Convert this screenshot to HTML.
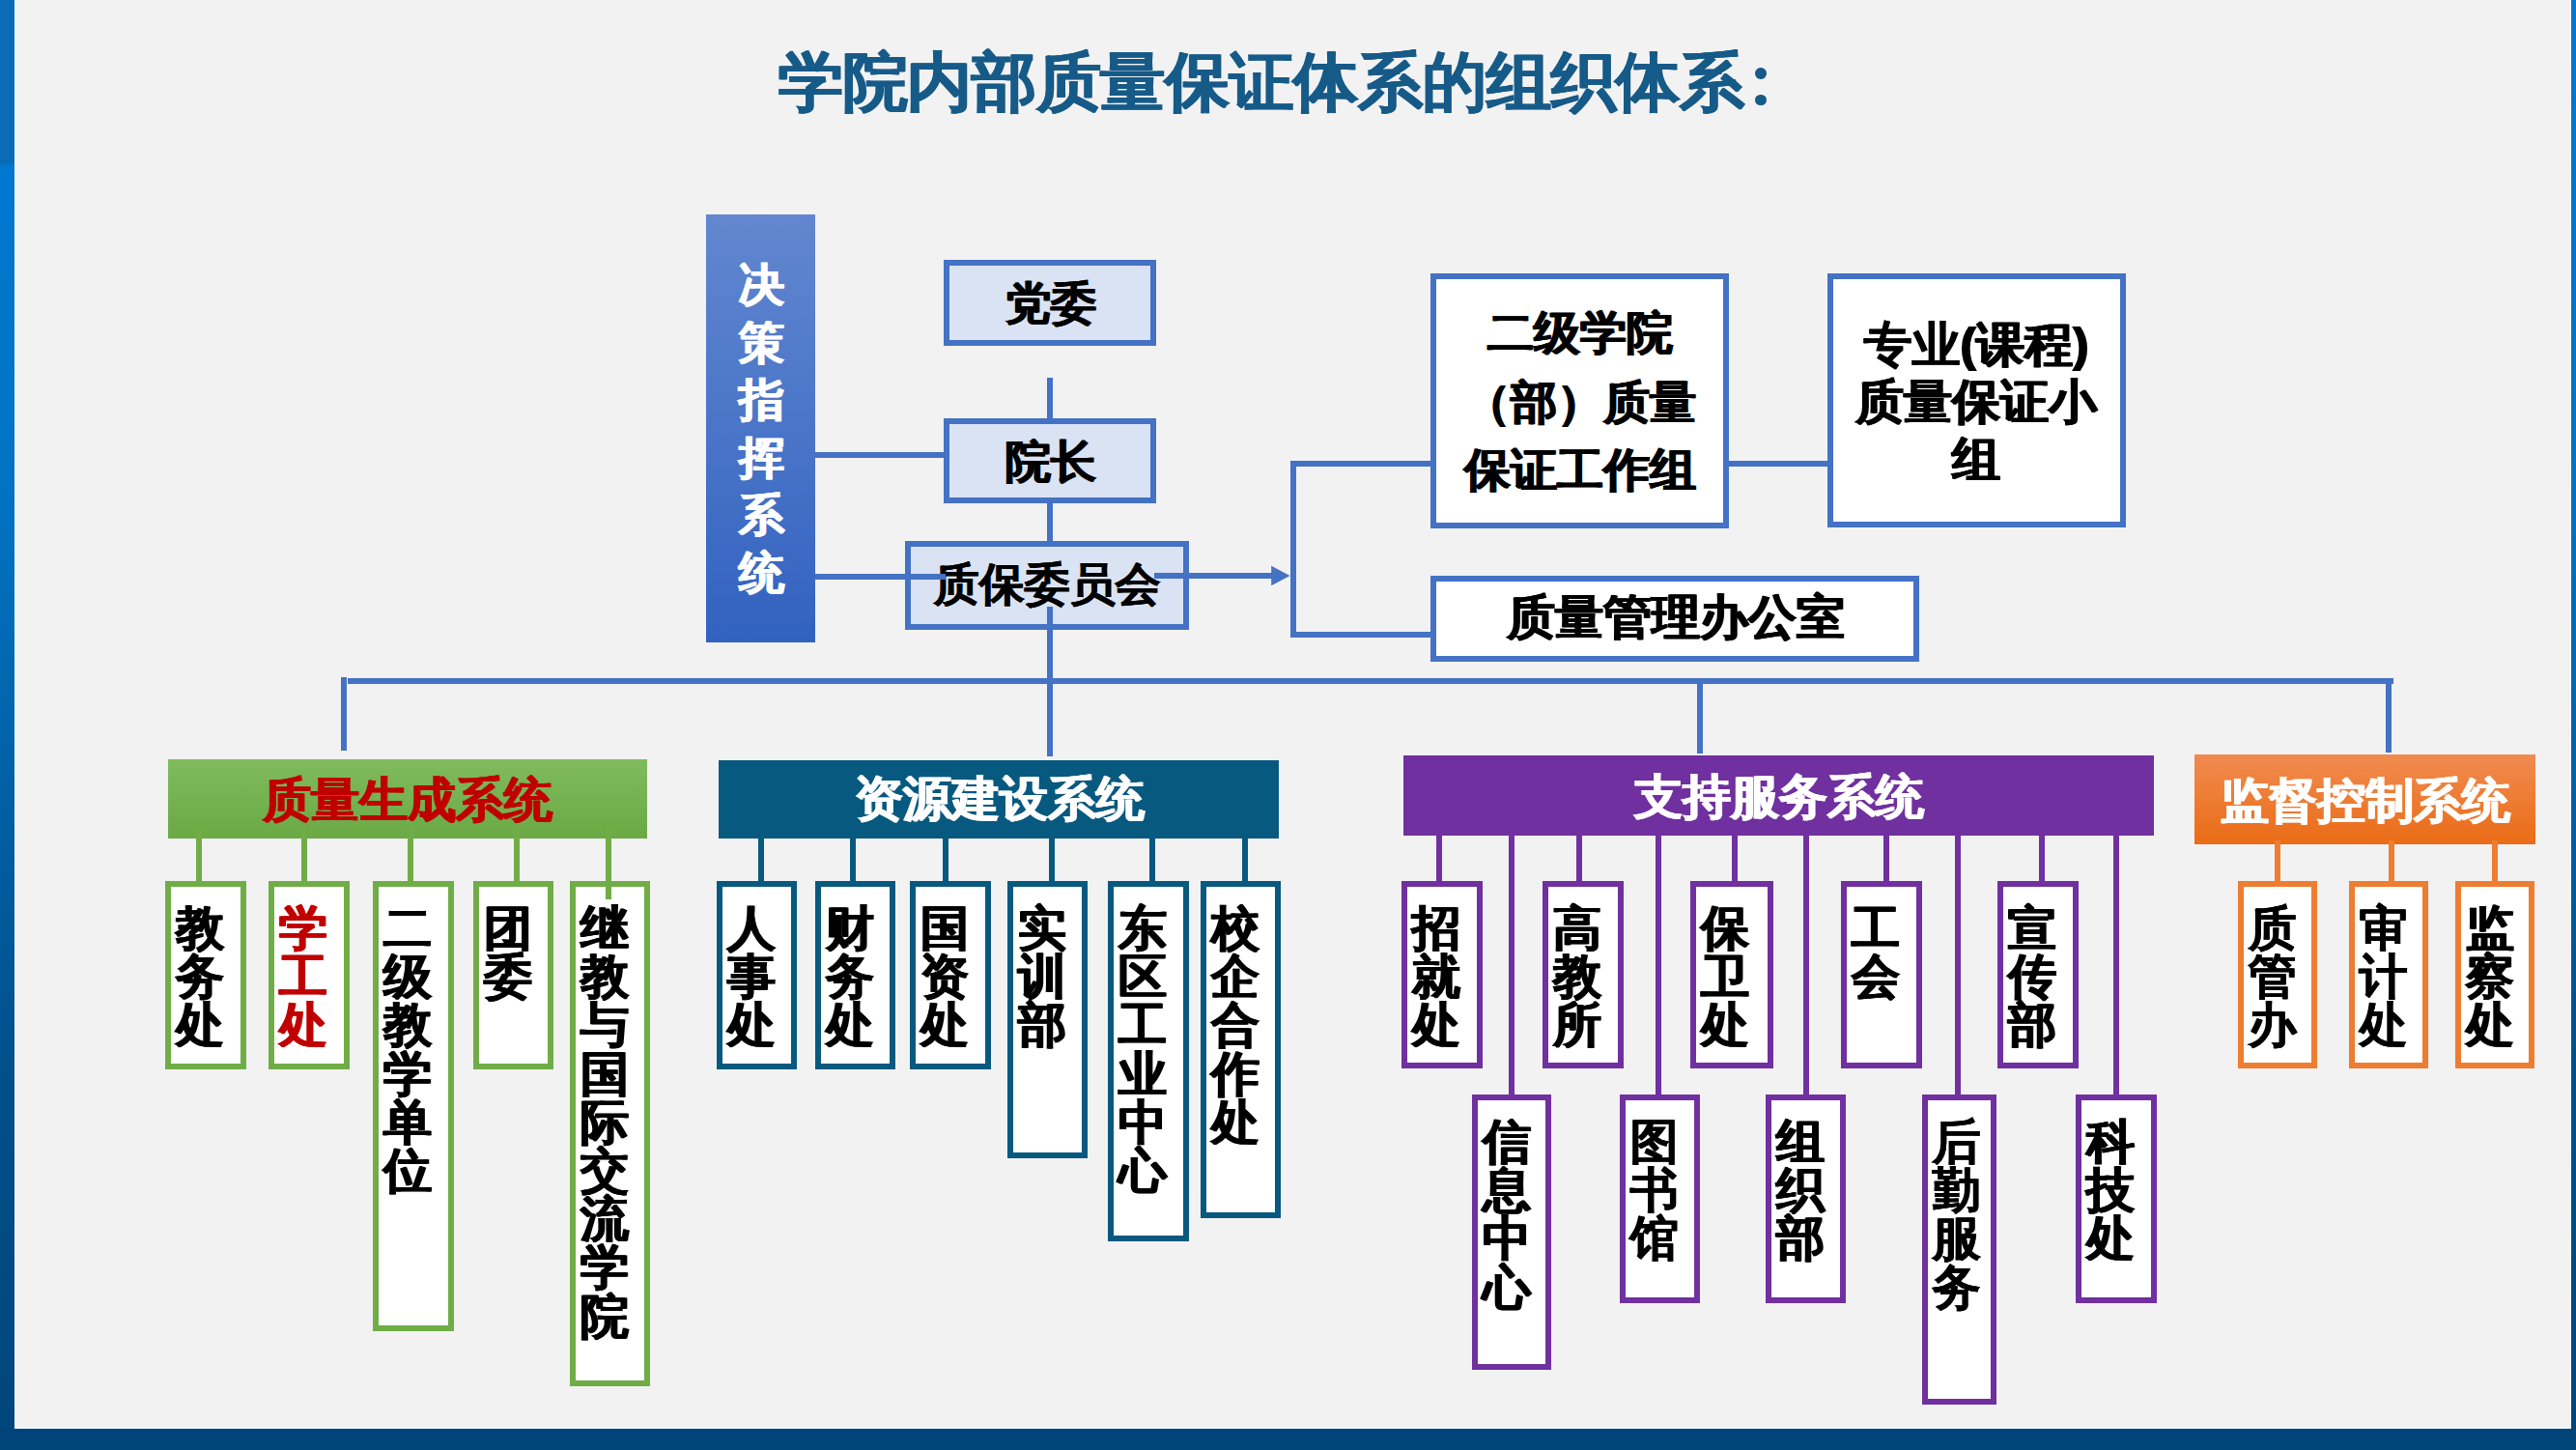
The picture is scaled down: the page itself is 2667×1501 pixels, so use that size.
<!DOCTYPE html>
<html><head><meta charset="utf-8"><style>
html,body{margin:0;padding:0;width:2667px;height:1501px;overflow:hidden;background:#f2f2f2}
body>div{position:absolute;box-sizing:border-box}
.t{font-family:"Liberation Sans", sans-serif;font-weight:bold;white-space:nowrap;text-shadow:0.9px 0 0 currentColor,-0.9px 0 0 currentColor}
</style></head><body>
<div style="left:0.0px;top:0.0px;width:2667.0px;height:1501.0px;background:#f2f2f2"></div>
<div style="left:0.0px;top:0.0px;width:15.0px;height:1479.0px;background:linear-gradient(#0a6cb6 0px,#0a6cb6 170px,#0078d0 171px,#0073c4 500px,#00508c 1100px,#00467c 1480px)"></div>
<div style="left:2662.0px;top:0.0px;width:5.0px;height:1479.0px;background:linear-gradient(#0078d0 0px,#0073c4 500px,#00508c 1100px,#00467c 1480px)"></div>
<div style="left:0.0px;top:1479.0px;width:2667.0px;height:22.0px;background:#00457a"></div>
<div style="left:15.0px;top:0.0px;width:1.5px;height:1477.5px;background:#f4fbff"></div>
<div style="left:15.0px;top:1477.0px;width:2647.0px;height:2.0px;background:#eefaff"></div>
<div style="left:2660.5px;top:0.0px;width:1.5px;height:1477.5px;background:#f4fbff"></div>
<div class="t" style="left:806.0px;top:52.0px;font-size:66.5px;line-height:66.5px;color:#165a88;letter-spacing:-0.35px">学院内部质量保证体系的组织体系</div>
<div style="left:1816.8px;top:70.4px;width:11.8px;height:11.8px;background:#165a88;border-radius:50%"></div>
<div style="left:1816.8px;top:97.5px;width:11.8px;height:11.8px;background:#165a88;border-radius:50%"></div>
<div style="left:731.0px;top:222.0px;width:113.0px;height:442.5px;background:linear-gradient(#6287d0,#3262c0)"></div>
<div class="t" style="left:765.0px;top:265.0px;font-size:47px;line-height:59.6px;color:#fff;">决<br>策<br>指<br>挥<br>系<br>统</div>
<div style="left:977.0px;top:269.0px;width:219.5px;height:88.6px;border:6px solid #4472c4;background:#dae3f3"></div>
<div class="t" style="left:688.0px;top:290.0px;width:800px;text-align:center;font-size:47px;line-height:47px;color:#000;">党委</div>
<div style="left:1084.0px;top:391.0px;width:6.0px;height:45.0px;background:#4472c4"></div>
<div style="left:977.0px;top:433.0px;width:219.5px;height:88.4px;border:6px solid #4472c4;background:#dae3f3"></div>
<div class="t" style="left:688.0px;top:454.0px;width:800px;text-align:center;font-size:47px;line-height:47px;color:#000;">院长</div>
<div style="left:1084.0px;top:518.0px;width:6.0px;height:45.0px;background:#4472c4"></div>
<div style="left:937.0px;top:560.0px;width:294.0px;height:92.4px;border:6px solid #4472c4;background:#dae3f3"></div>
<div class="t" style="left:684.0px;top:582.0px;width:800px;text-align:center;font-size:46.5px;line-height:46.5px;color:#000;">质保委员会</div>
<div style="left:844.0px;top:593.5px;width:135.0px;height:6.0px;background:#4472c4"></div>
<div style="left:843.0px;top:467.7px;width:137.0px;height:6.0px;background:#4472c4"></div>
<div style="left:1084.0px;top:628.0px;width:6.0px;height:155.0px;background:#4472c4"></div>
<div style="left:1195.0px;top:593.0px;width:123.0px;height:6.0px;background:#4472c4"></div>
<svg style="position:absolute;left:1300px;top:580px" width="40" height="34"><polygon points="16.2,5.7 35.5,16 16.2,26.3" fill="#4472c4"/></svg>
<div style="left:1335.7px;top:477.0px;width:6.0px;height:183.0px;background:#4472c4"></div>
<div style="left:1336.0px;top:476.5px;width:147.0px;height:6.0px;background:#4472c4"></div>
<div style="left:1336.0px;top:654.0px;width:147.0px;height:6.0px;background:#4472c4"></div>
<div style="left:1481.4px;top:283.2px;width:309.1px;height:263.7px;border:6px solid #4472c4;background:#fff"></div>
<div class="t" style="left:1236.0px;top:320.5px;width:800px;text-align:center;font-size:47.5px;line-height:47.5px;color:#000;">二级学院</div>
<div class="t" style="left:1236.0px;top:392.5px;width:800px;text-align:center;font-size:47.5px;line-height:47.5px;color:#000;">（部）质量</div>
<div class="t" style="left:1236.0px;top:463.0px;width:800px;text-align:center;font-size:47.5px;line-height:47.5px;color:#000;">保证工作组</div>
<div style="left:1788.0px;top:477.0px;width:106.0px;height:6.0px;background:#4472c4"></div>
<div style="left:1892.0px;top:283.0px;width:308.6px;height:263.0px;border:6px solid #4472c4;background:#fff"></div>
<div class="t" style="left:1646.0px;top:332.0px;width:800px;text-align:center;font-size:49.5px;line-height:49.5px;color:#000;">专业(课程)</div>
<div class="t" style="left:1646.0px;top:391.0px;width:800px;text-align:center;font-size:49.5px;line-height:49.5px;color:#000;">质量保证小</div>
<div class="t" style="left:1646.0px;top:451.0px;width:800px;text-align:center;font-size:49.5px;line-height:49.5px;color:#000;">组</div>
<div style="left:1481.4px;top:595.6px;width:506.0px;height:89.2px;border:6px solid #4472c4;background:#fff"></div>
<div class="t" style="left:1335.0px;top:614.0px;width:800px;text-align:center;font-size:50px;line-height:50px;color:#000;">质量管理办公室</div>
<div style="left:360.2px;top:702.0px;width:2117.8px;height:6.0px;background:#4472c4"></div>
<div style="left:352.8px;top:701.0px;width:6.0px;height:75.5px;background:#4472c4"></div>
<div style="left:1757.0px;top:705.0px;width:6.0px;height:75.4px;background:#4472c4"></div>
<div style="left:2469.5px;top:702.0px;width:6.0px;height:76.6px;background:#4472c4"></div>
<div style="left:174.3px;top:786.2px;width:495.4px;height:82.0px;background:linear-gradient(#80bb5e,#6aa944)"></div>
<div class="t" style="left:22.0px;top:803.0px;width:800px;text-align:center;font-size:50px;line-height:50px;color:#c00000;">质量生成系统</div>
<div style="left:202.6px;top:856.0px;width:6.0px;height:58.0px;background:#70ad47"></div>
<div style="left:312.0px;top:856.0px;width:6.0px;height:58.0px;background:#70ad47"></div>
<div style="left:422.0px;top:856.0px;width:6.0px;height:58.0px;background:#70ad47"></div>
<div style="left:532.0px;top:856.0px;width:6.0px;height:58.0px;background:#70ad47"></div>
<div style="left:627.0px;top:856.0px;width:6.0px;height:75.0px;background:#70ad47"></div>
<div style="left:171.3px;top:911.6px;width:83.4px;height:195.4px;border:6px solid #70ad47;background:#fff"></div>
<div class="t" style="left:182.3px;top:936.0px;font-size:50px;line-height:50.2px;color:#000;">教<br>务<br>处</div>
<div style="left:278.0px;top:911.6px;width:83.6px;height:195.4px;border:6px solid #70ad47;background:#fff"></div>
<div class="t" style="left:289.0px;top:936.0px;font-size:50px;line-height:50.2px;color:#c00000;">学<br>工<br>处</div>
<div style="left:386.2px;top:911.6px;width:83.4px;height:466.1px;border:6px solid #70ad47;background:#fff"></div>
<div class="t" style="left:397.2px;top:936.0px;font-size:50px;line-height:50.2px;color:#000;">二<br>级<br>教<br>学<br>单<br>位</div>
<div style="left:490.0px;top:911.6px;width:83.4px;height:195.4px;border:6px solid #70ad47;background:#fff"></div>
<div class="t" style="left:501.0px;top:936.0px;font-size:50px;line-height:50.2px;color:#000;">团<br>委</div>
<div style="left:589.8px;top:911.6px;width:83.2px;height:523.7px;border:6px solid #70ad47;background:#fff"></div>
<div class="t" style="left:600.8px;top:936.0px;font-size:50px;line-height:50.2px;color:#000;">继<br>教<br>与<br>国<br>际<br>交<br>流<br>学<br>院</div>
<div style="left:627.0px;top:900.0px;width:6.0px;height:31.0px;background:#70ad47"></div>
<div style="left:744.4px;top:786.9px;width:579.8px;height:81.2px;background:#08597f"></div>
<div class="t" style="left:635.0px;top:802.0px;width:800px;text-align:center;font-size:50px;line-height:50px;color:#fff;">资源建设系统</div>
<div style="left:784.6px;top:866.0px;width:6.0px;height:48.0px;background:#08597f"></div>
<div style="left:880.0px;top:866.0px;width:6.0px;height:48.0px;background:#08597f"></div>
<div style="left:976.0px;top:866.0px;width:6.0px;height:48.0px;background:#08597f"></div>
<div style="left:1085.6px;top:866.0px;width:6.0px;height:48.0px;background:#08597f"></div>
<div style="left:1189.5px;top:866.0px;width:6.0px;height:48.0px;background:#08597f"></div>
<div style="left:1285.7px;top:866.0px;width:6.0px;height:48.0px;background:#08597f"></div>
<div style="left:742.2px;top:911.8px;width:83.0px;height:194.9px;border:6px solid #08597f;background:#fff"></div>
<div class="t" style="left:753.2px;top:936.0px;font-size:50px;line-height:50.2px;color:#000;">人<br>事<br>处</div>
<div style="left:844.0px;top:911.8px;width:83.4px;height:194.9px;border:6px solid #08597f;background:#fff"></div>
<div class="t" style="left:855.0px;top:936.0px;font-size:50px;line-height:50.2px;color:#000;">财<br>务<br>处</div>
<div style="left:942.3px;top:911.8px;width:83.4px;height:194.9px;border:6px solid #08597f;background:#fff"></div>
<div class="t" style="left:953.3px;top:936.0px;font-size:50px;line-height:50.2px;color:#000;">国<br>资<br>处</div>
<div style="left:1042.8px;top:911.8px;width:83.4px;height:287.7px;border:6px solid #08597f;background:#fff"></div>
<div class="t" style="left:1053.8px;top:936.0px;font-size:50px;line-height:50.2px;color:#000;">实<br>训<br>部</div>
<div style="left:1146.7px;top:911.8px;width:84.3px;height:373.2px;border:6px solid #08597f;background:#fff"></div>
<div class="t" style="left:1157.7px;top:936.0px;font-size:50px;line-height:50.2px;color:#000;">东<br>区<br>工<br>业<br>中<br>心</div>
<div style="left:1243.0px;top:911.8px;width:83.3px;height:348.9px;border:6px solid #08597f;background:#fff"></div>
<div class="t" style="left:1254.0px;top:936.0px;font-size:50px;line-height:50.2px;color:#000;">校<br>企<br>合<br>作<br>处</div>
<div style="left:1452.6px;top:782.0px;width:777.4px;height:82.9px;background:#7030a0"></div>
<div class="t" style="left:1442.0px;top:800.0px;width:800px;text-align:center;font-size:50px;line-height:50px;color:#fff;">支持服务系统</div>
<div style="left:1486.5px;top:863.0px;width:6.0px;height:51.5px;background:#7030a0"></div>
<div style="left:1561.8px;top:863.0px;width:6.0px;height:272.5px;background:#7030a0"></div>
<div style="left:1631.9px;top:863.0px;width:6.0px;height:51.5px;background:#7030a0"></div>
<div style="left:1714.4px;top:863.0px;width:6.0px;height:272.5px;background:#7030a0"></div>
<div style="left:1792.6px;top:863.0px;width:6.0px;height:51.5px;background:#7030a0"></div>
<div style="left:1867.0px;top:863.0px;width:6.0px;height:272.5px;background:#7030a0"></div>
<div style="left:1949.8px;top:863.0px;width:6.0px;height:51.5px;background:#7030a0"></div>
<div style="left:2023.5px;top:863.0px;width:6.0px;height:272.5px;background:#7030a0"></div>
<div style="left:2110.9px;top:863.0px;width:6.0px;height:51.5px;background:#7030a0"></div>
<div style="left:2188.2px;top:863.0px;width:6.0px;height:272.5px;background:#7030a0"></div>
<div style="left:1451.0px;top:911.5px;width:83.8px;height:194.5px;border:6px solid #7030a0;background:#fff"></div>
<div class="t" style="left:1462.0px;top:936.0px;font-size:50px;line-height:50.2px;color:#000;">招<br>就<br>处</div>
<div style="left:1523.7px;top:1132.5px;width:82.8px;height:285.9px;border:6px solid #7030a0;background:#fff"></div>
<div class="t" style="left:1534.7px;top:1157.0px;font-size:50px;line-height:50.2px;color:#000;">信<br>息<br>中<br>心</div>
<div style="left:1597.0px;top:911.5px;width:83.8px;height:194.5px;border:6px solid #7030a0;background:#fff"></div>
<div class="t" style="left:1608.0px;top:936.0px;font-size:50px;line-height:50.2px;color:#000;">高<br>教<br>所</div>
<div style="left:1676.6px;top:1132.5px;width:83.2px;height:216.8px;border:6px solid #7030a0;background:#fff"></div>
<div class="t" style="left:1687.6px;top:1157.0px;font-size:50px;line-height:50.2px;color:#000;">图<br>书<br>馆</div>
<div style="left:1750.0px;top:911.5px;width:85.7px;height:194.5px;border:6px solid #7030a0;background:#fff"></div>
<div class="t" style="left:1761.0px;top:936.0px;font-size:50px;line-height:50.2px;color:#000;">保<br>卫<br>处</div>
<div style="left:1828.2px;top:1132.5px;width:83.2px;height:216.8px;border:6px solid #7030a0;background:#fff"></div>
<div class="t" style="left:1839.2px;top:1157.0px;font-size:50px;line-height:50.2px;color:#000;">组<br>织<br>部</div>
<div style="left:1905.8px;top:911.5px;width:83.8px;height:194.5px;border:6px solid #7030a0;background:#fff"></div>
<div class="t" style="left:1916.8px;top:936.0px;font-size:50px;line-height:50.2px;color:#000;">工<br>会</div>
<div style="left:1989.6px;top:1132.5px;width:77.6px;height:321.8px;border:6px solid #7030a0;background:#fff"></div>
<div class="t" style="left:2000.6px;top:1157.0px;font-size:50px;line-height:50.2px;color:#000;">后<br>勤<br>服<br>务</div>
<div style="left:2067.9px;top:911.5px;width:84.1px;height:194.5px;border:6px solid #7030a0;background:#fff"></div>
<div class="t" style="left:2078.9px;top:936.0px;font-size:50px;line-height:50.2px;color:#000;">宣<br>传<br>部</div>
<div style="left:2149.4px;top:1132.5px;width:83.2px;height:216.8px;border:6px solid #7030a0;background:#fff"></div>
<div class="t" style="left:2160.4px;top:1157.0px;font-size:50px;line-height:50.2px;color:#000;">科<br>技<br>处</div>
<div style="left:2272.2px;top:781.0px;width:353.0px;height:93.2px;background:linear-gradient(#f18b50,#ea6c16)"></div>
<div class="t" style="left:2049.0px;top:804.0px;width:800px;text-align:center;font-size:50px;line-height:50px;color:#fff;">监督控制系统</div>
<div style="left:2355.0px;top:870.0px;width:6.0px;height:44.0px;background:#ed7d31"></div>
<div style="left:2473.4px;top:870.0px;width:6.0px;height:44.0px;background:#ed7d31"></div>
<div style="left:2579.7px;top:870.0px;width:6.0px;height:44.0px;background:#ed7d31"></div>
<div style="left:2316.5px;top:912.2px;width:82.0px;height:193.6px;border:6px solid #ed7d31;background:#fff"></div>
<div class="t" style="left:2327.5px;top:936.0px;font-size:50px;line-height:50.2px;color:#000;">质<br>管<br>办</div>
<div style="left:2431.5px;top:912.2px;width:82.9px;height:193.6px;border:6px solid #ed7d31;background:#fff"></div>
<div class="t" style="left:2442.5px;top:936.0px;font-size:50px;line-height:50.2px;color:#000;">审<br>计<br>处</div>
<div style="left:2541.7px;top:912.2px;width:82.8px;height:193.6px;border:6px solid #ed7d31;background:#fff"></div>
<div class="t" style="left:2552.7px;top:936.0px;font-size:50px;line-height:50.2px;color:#000;">监<br>察<br>处</div>
</body></html>
